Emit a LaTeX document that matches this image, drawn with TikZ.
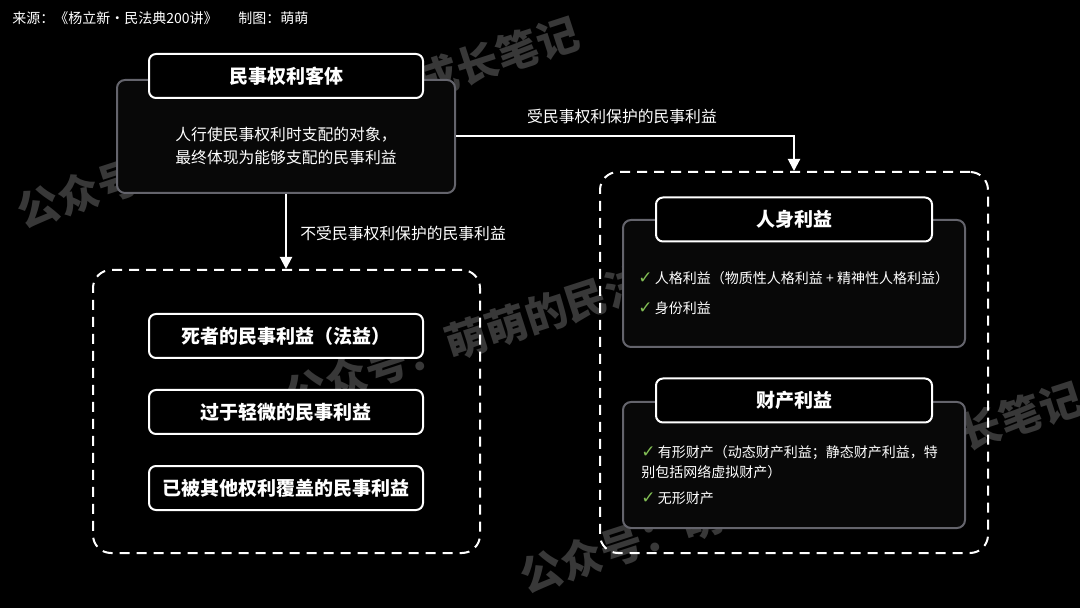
\documentclass[tikz,border=0pt]{standalone}
\usepackage{fontspec}
\setmainfont{Noto Sans CJK SC}
\newfontfamily\symfont{DejaVu Sans}
\usetikzlibrary{arrows.meta, positioning}
\definecolor{BoxGray}{RGB}{100, 100, 108}
\definecolor{BoxFill}{RGB}{8, 8, 8}
\definecolor{MarkGreen}{RGB}{130, 190, 85}
\definecolor{WaterGray}{RGB}{56, 56, 56}
\newcommand{\tick}{{\symfont\fontsize{8.5}{10}\selectfont\textcolor{MarkGreen}{✓}}\,}

\begin{document}
\begin{tikzpicture}[x=0.5pt, y=-0.5pt,
    titlebox/.style={draw=white, line width=1pt, fill=black, rounded corners=3.5pt,
      minimum width=137pt, minimum height=22pt, inner sep=0pt, text=white,
      font=\fontsize{9.5}{11}\selectfont\bfseries},
    darkbox/.style={draw=BoxGray, line width=1pt, fill=BoxFill, rounded corners=4pt,
      inner sep=0pt, minimum width=171pt},
    dashbox/.style={draw=white, line width=1pt, dash pattern=on 5pt off 3.5pt,
      rounded corners=9pt, inner sep=0pt},
    link/.style={draw=white, line width=1pt, -{Triangle[width=6pt,length=6pt]}},
    linklabel/.style={text=white, inner sep=0pt, font=\fontsize{7.9}{9}\selectfont},
    itemtext/.style={text=white, anchor=west, inner sep=0pt, align=left,
      font=\fontsize{7}{10}\selectfont},
    watermark/.style={text=WaterGray, rotate=18, inner sep=0pt,
      font=\fontsize{21}{23}\selectfont\bfseries}
  ]
  \fill[black] (0,0) rectangle (1080,608);
  \useasboundingbox (0,0) rectangle (1080,608);

  \node[watermark] (mark1) at (298,122) {公众号：萌萌的民法典成长笔记};
  \node[watermark] (mark2) at (566,306) {公众号：萌萌的民法典成长笔记};
  \node[watermark] (mark3) at (801,487) {公众号：萌萌的民法典成长笔记};

  \node[text=white, anchor=west, inner sep=0pt, font=\fontsize{7}{8}\selectfont]
       (source) at (12,18) {来源：《杨立新・民法典200讲》};
  \node[text=white, anchor=west, inner sep=0pt, font=\fontsize{7}{8}\selectfont]
       (maker) at (238,18) {制图：萌萌};

  \node[darkbox, minimum width=169pt, minimum height=56.5pt] (objbox) at (286,136.5) {};
  \node[titlebox] (objtitle) at (286,76) {民事权利客体};
  \node[text=white, align=center, inner sep=0pt, font=\fontsize{7.9}{11.5}\selectfont]
       (objdesc) at (286,146.5) {人行使民事权利时支配的对象，\\最终体现为能够支配的民事利益};

  \node[dashbox, minimum width=193.5pt, minimum height=141.5pt] (lowbox) at (286.5,411.5) {};
  \node[dashbox, minimum width=194pt, minimum height=190.5pt] (protbox) at (794,362.5) {};

  \draw[link] (objbox.east) -| (protbox.north);
  \node[linklabel] (protlabel) at (622,117) {受民事权利保护的民事利益};
  \draw[link] (objbox.south) -- (objbox.south |- lowbox.north);
  \node[linklabel, anchor=west] (lowlabel) at (300,234) {不受民事权利保护的民事利益};

  \node[titlebox] (low1) at (286,336) {死者的民事利益（法益）};
  \node[titlebox] (low2) at (286,412) {过于轻微的民事利益};
  \node[titlebox] (low3) at (286,488) {已被其他权利覆盖的民事利益};

  \node[darkbox, minimum height=63.5pt] (personbox) at (794,283.5) {};
  \node[titlebox, minimum width=138pt] (persontitle) at (794,219.5) {人身利益};
  \node[itemtext] (pitem1) at (638,278) {\tick 人格利益（物质性人格利益 + 精神性人格利益）};
  \node[itemtext] (pitem2) at (638,308) {\tick 身份利益};

  \node[darkbox, minimum height=63pt] (propbox) at (794,465) {};
  \node[titlebox, minimum width=138pt] (proptitle) at (794,400.5) {财产利益};
  \node[itemtext] (fitem1) at (641,462) {\tick 有形财产（动态财产利益；静态财产利益，特\\别包括网络虚拟财产）};
  \node[itemtext] (fitem2) at (641,498) {\tick 无形财产};
\end{tikzpicture}
\end{document}
